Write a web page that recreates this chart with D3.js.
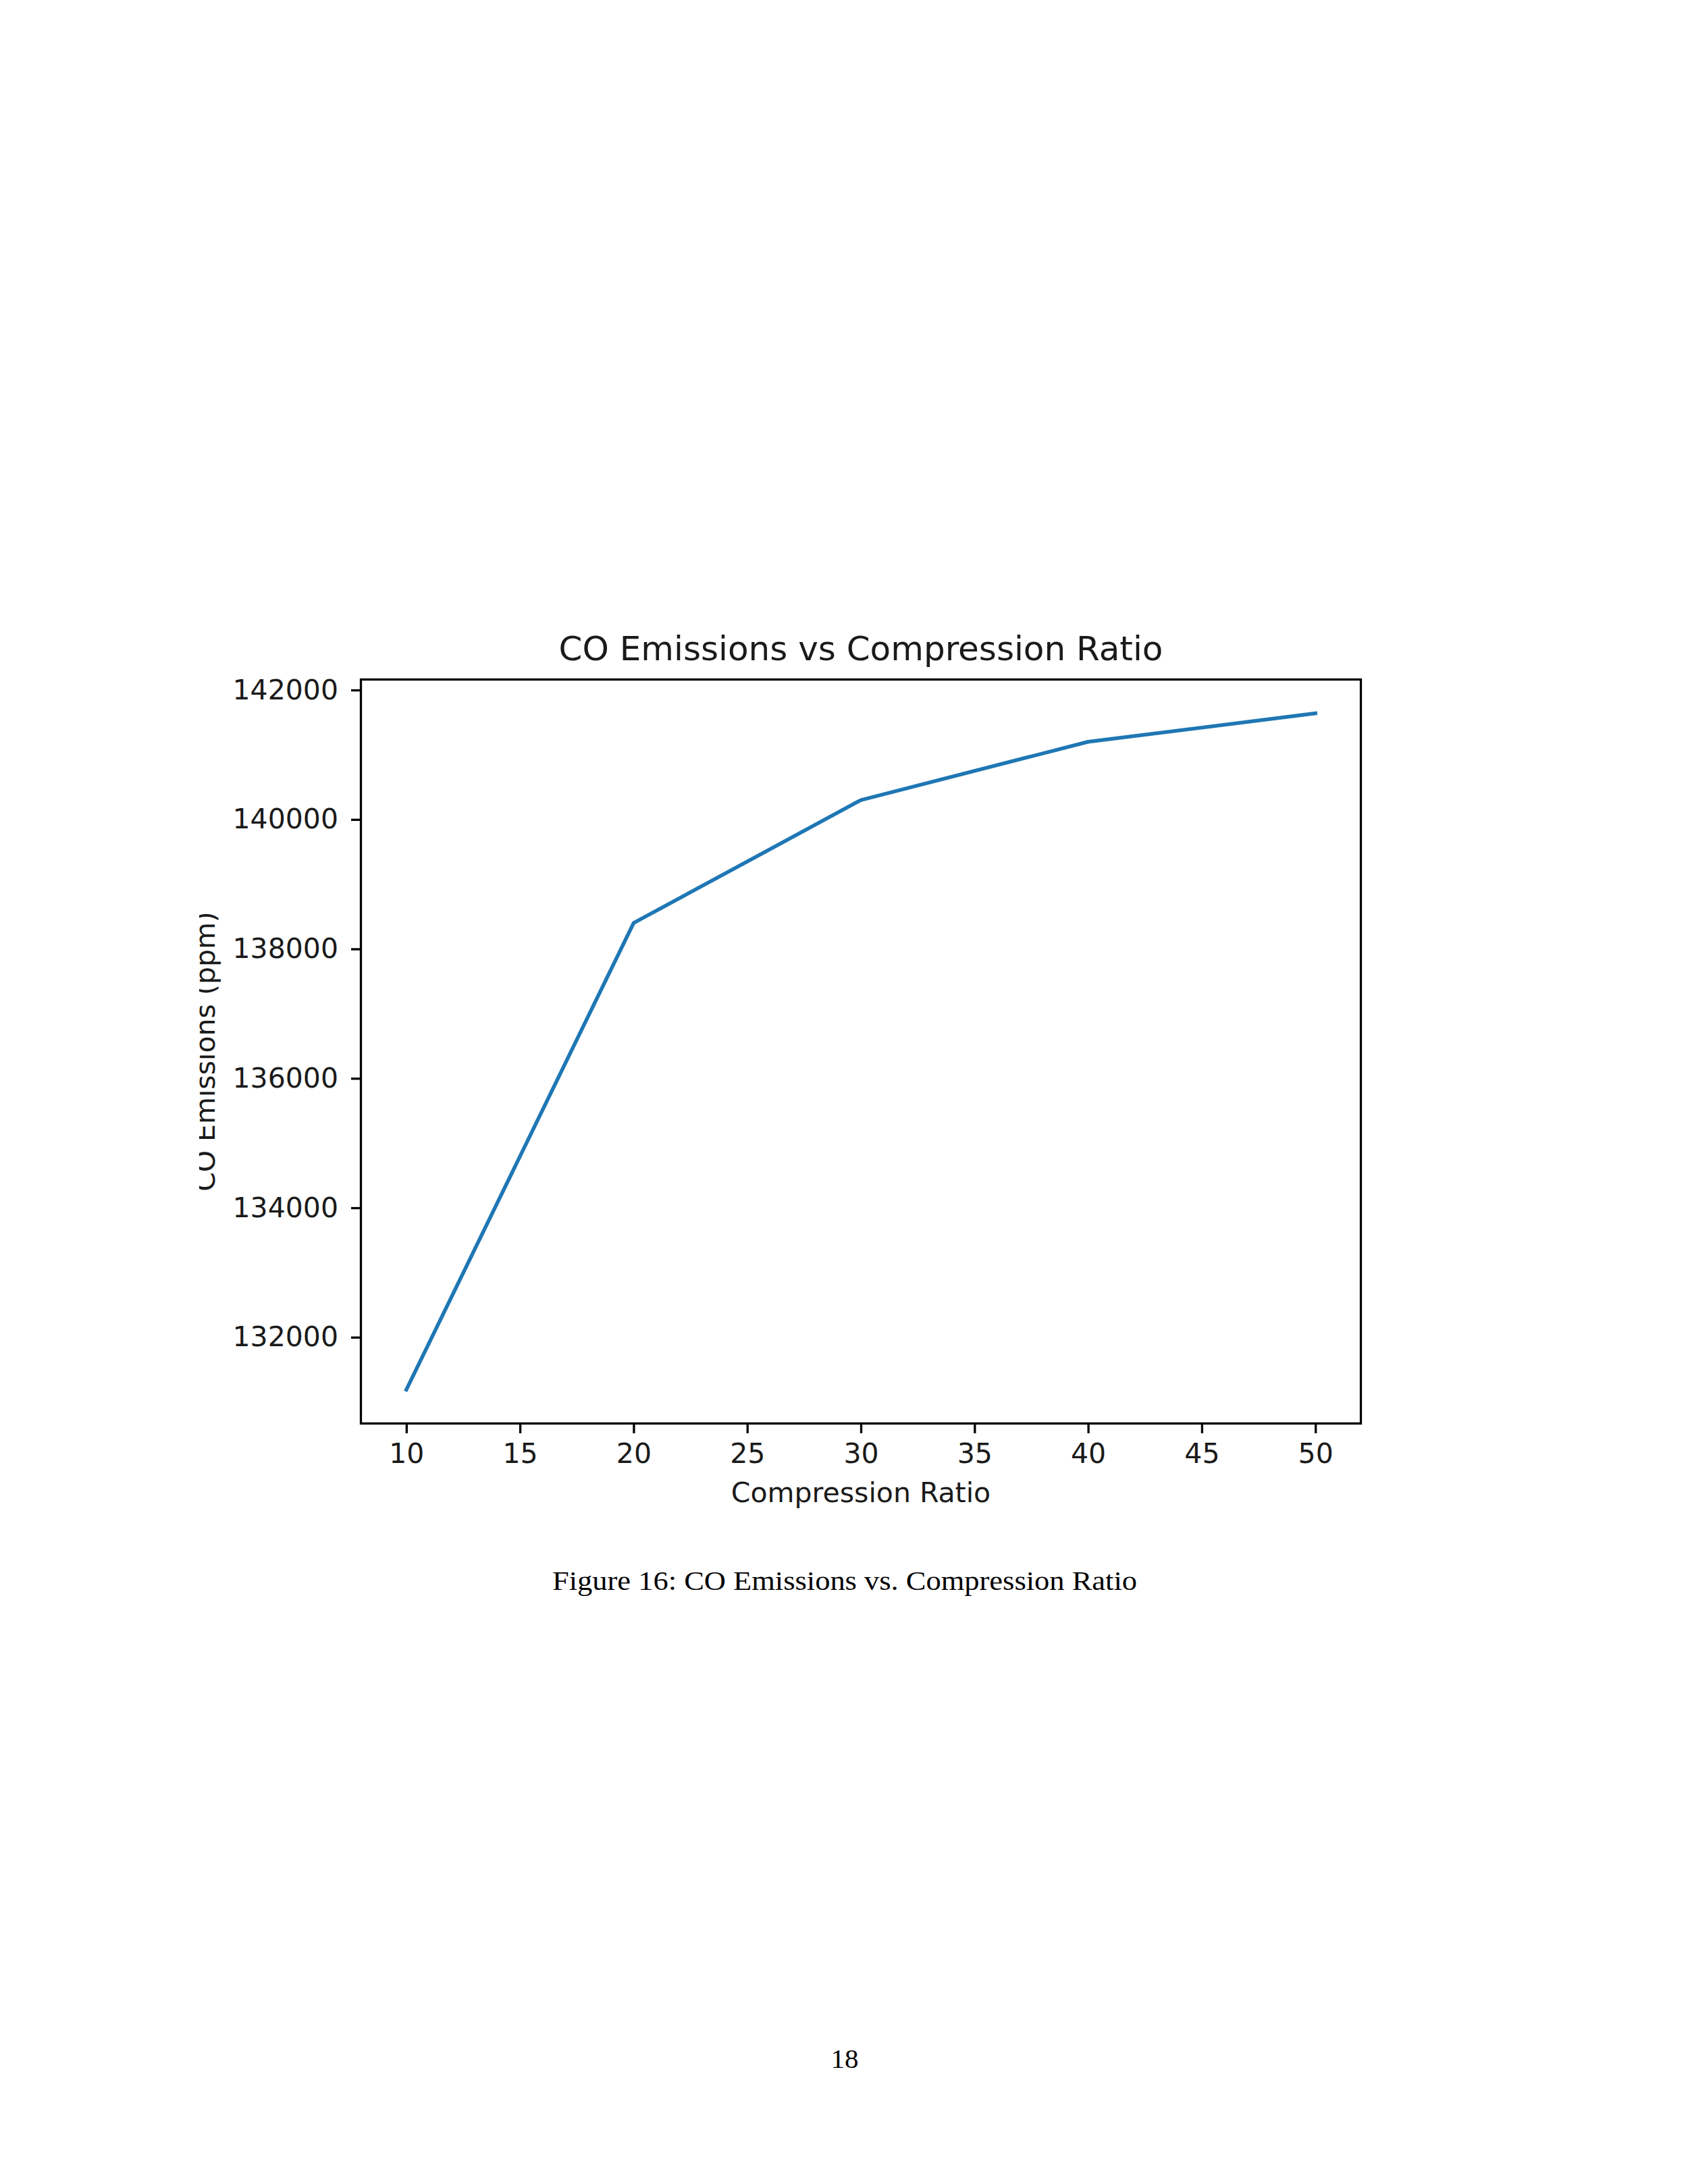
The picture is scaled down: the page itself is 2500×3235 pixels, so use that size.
<!DOCTYPE html>
<meta charset="utf-8">
<head>
	<script src="https://d3js.org/d3.v7.min.js"></script>
	<style>
		body {
			margin: 0;
			background: #fff;
		}
		.chart text {
			font-family: "DejaVu Sans", sans-serif;
			fill: #1a1a1a;
		}
		.axis path {
			display: none;
		}
		.axis line {
			stroke: #000;
			stroke-width: 3.3;
		}
		.latex {
			font-family: "Liberation Serif", "DejaVu Serif", serif;
			fill: #000;
		}
	</style>
</head>

<body>
	<div id="page"></div>
</body>

<script type="text/javascript">

	// compression ratio (x) and CO emissions in ppm (y)
	var ratio = [10, 20, 30, 40, 50];
	var emissions = [131190, 138400, 140300, 141200, 141640];

	var xTicks = [10, 15, 20, 25, 30, 35, 40, 45, 50];
	var yTicks = [132000, 134000, 136000, 138000, 140000, 142000];

	var title = "CO Emissions vs Compression Ratio",
		xLabel = "Compression Ratio",
		yLabel = "CO Emissions (ppm)",
		caption = "Figure 16: CO Emissions vs. Compression Ratio",
		pageNo = "18";

	var pageW = 2500, pageH = 3235;

	var margin = {top: 1006.5, left: 534.5},
		width = 1481,
		height = 1102;

	// matplotlib style 5% padding around the data
	function padded(vals) {
		var ext = d3.extent(vals), pad = (ext[1] - ext[0]) * 0.05;
		return [ext[0] - pad, ext[1] + pad];
	}

	var x = d3.scaleLinear()
		.domain(padded(ratio))
		.range([0, width]);

	var y = d3.scaleLinear()
		.domain(padded(emissions))
		.range([height, 0]);

	var svg = d3.select("#page").append("svg")
		.attr("width", pageW)
		.attr("height", pageH)
		.style("display", "block")
		.style("background", "#fff");

	svg.append("defs").append("clipPath")
		.attr("id", "figclip")
		.append("rect")
		.attr("x", 295)
		.attr("y", 0)
		.attr("width", pageW - 295)
		.attr("height", pageH);

	var chart = svg.append("g")
		.attr("class", "chart")
		.attr("clip-path", "url(#figclip)");

	var g = chart.append("g")
		.attr("transform", "translate(" + margin.left + "," + margin.top + ")");

	var xAxis = d3.axisBottom(x)
		.tickValues(xTicks)
		.tickSizeInner(14.5)
		.tickSizeOuter(0)
		.tickPadding(14.5)
		.tickFormat(d3.format("d"));

	var yAxis = d3.axisLeft(y)
		.tickValues(yTicks)
		.tickSizeInner(14.5)
		.tickSizeOuter(0)
		.tickPadding(19)
		.tickFormat(d3.format("d"));

	var xaxis = g.append("g")
		.attr("class", "x axis")
		.attr("transform", "translate(0," + height + ")")
		.call(xAxis);

	xaxis.selectAll("text")
		.style("font-size", "41px");

	var yaxis = g.append("g")
		.attr("class", "y axis")
		.call(yAxis);

	yaxis.selectAll("text")
		.style("font-size", "41px");

	var line = d3.line()
		.x(function(d, i) { return x(ratio[i]); })
		.y(function(d) { return y(d); });

	g.append("path")
		.datum(emissions)
		.attr("d", line)
		.style("fill", "none")
		.style("stroke", "#1f77b4")
		.style("stroke-width", 5.5)
		.style("stroke-linejoin", "round")
		.style("stroke-linecap", "square");

	// axes frame
	g.append("rect")
		.attr("width", width)
		.attr("height", height)
		.style("fill", "none")
		.style("stroke", "#000")
		.style("stroke-width", 3.3);

	g.append("text")
		.attr("x", width / 2)
		.attr("y", -28.5)
		.style("text-anchor", "middle")
		.style("font-size", "50px")
		.text(title);

	g.append("text")
		.attr("x", width / 2)
		.attr("y", height + 116.5)
		.style("text-anchor", "middle")
		.style("font-size", "41px")
		.text(xLabel);

	g.append("text")
		.attr("transform", "translate(" + (318 - margin.left) + "," + (height / 2) + ")rotate(-90)")
		.style("text-anchor", "middle")
		.style("font-size", "41px")
		.text(yLabel);

	// latex caption and page number
	svg.append("text")
		.attr("class", "latex")
		.attr("x", 1251)
		.attr("y", 2355)
		.attr("textLength", 866)
		.attr("lengthAdjust", "spacingAndGlyphs")
		.style("text-anchor", "middle")
		.style("font-size", "41px")
		.text(caption);

	svg.append("text")
		.attr("class", "latex")
		.attr("x", 1251)
		.attr("y", 3063)
		.style("text-anchor", "middle")
		.style("font-size", "41px")
		.text(pageNo);
</script>
